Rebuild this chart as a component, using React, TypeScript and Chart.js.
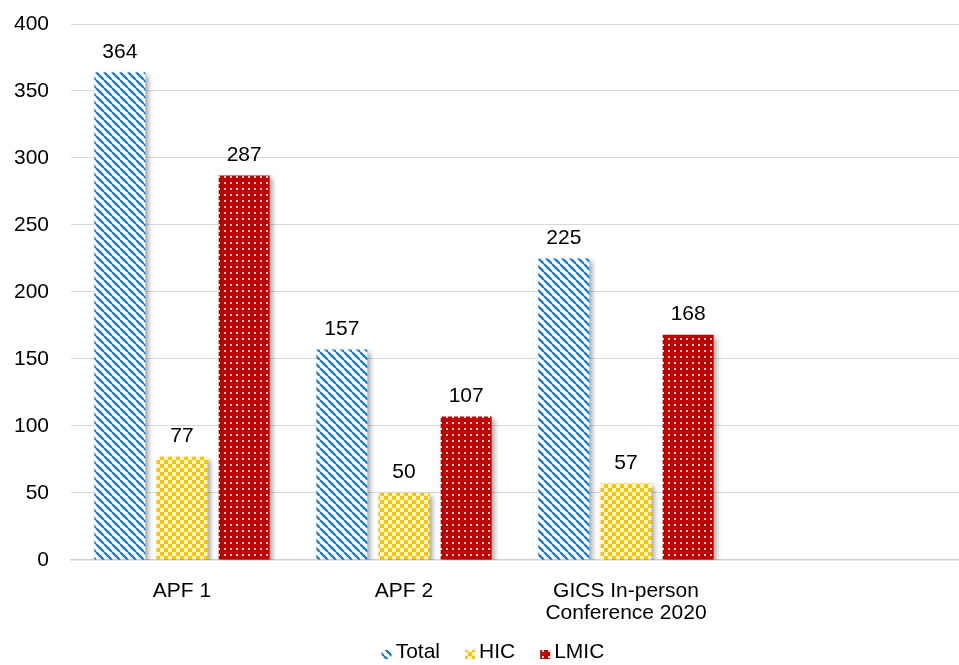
import React, { useEffect, useRef } from "react";
import { Chart, registerables } from "chart.js";

Chart.register(...registerables);

const categories: (string | string[])[] = ["APF 1", "APF 2", ["GICS In-person", "Conference 2020"], ""];
const totalValues = [364, 157, 225, null];
const hicValues = [77, 50, 57, null];
const lmicValues = [287, 107, 168, null];
const seriesNames = ["Total", "HIC", "LMIC"];
const yTicks = [0, 50, 100, 150, 200, 250, 300, 350, 400];

const FONT = "'Liberation Sans', Arial, sans-serif";
const FSIZE = 21;

function makeTile(w: number, h: number, draw: (c: CanvasRenderingContext2D) => void): CanvasPattern {
  const cv = document.createElement("canvas");
  cv.width = w;
  cv.height = h;
  const c = cv.getContext("2d")!;
  draw(c);
  return document.createElement("canvas").getContext("2d")!.createPattern(cv, "repeat")!;
}

function stripePattern(): CanvasPattern {
  return makeTile(8, 8, (c) => {
    c.fillStyle = "#ffffff";
    c.fillRect(0, 0, 8, 8);
    c.strokeStyle = "#1f7dc6";
    c.lineWidth = 2.4;
    for (const off of [-8, 0, 8]) {
      c.beginPath();
      c.moveTo(off, 0);
      c.lineTo(off + 8, 8);
      c.stroke();
    }
  });
}

function checkerPattern(): CanvasPattern {
  return makeTile(8, 8, (c) => {
    c.fillStyle = "#fff6cc";
    c.fillRect(0, 0, 8, 8);
    c.fillStyle = "#f7c600";
    c.fillRect(0, 0, 4, 4);
    c.fillRect(4, 4, 4, 4);
  });
}

function dotPattern(): CanvasPattern {
  return makeTile(6, 6, (c) => {
    c.fillStyle = "#c00000";
    c.fillRect(0, 0, 6, 6);
    c.fillStyle = "#f6d0d0";
    c.fillRect(2, 2, 2, 2);
  });
}

const shadowPlugin = {
  id: "barShadow",
  beforeDatasetsDraw(chart: any) {
    const ctx = chart.ctx;
    ctx.save();
    ctx.shadowColor = "rgba(0,0,0,0.35)";
    ctx.shadowBlur = 5;
    ctx.shadowOffsetX = 3;
    ctx.shadowOffsetY = 3;
  },
  afterDatasetsDraw(chart: any) {
    chart.ctx.restore();
  },
};

const valueLabelPlugin = {
  id: "valueLabels",
  afterDraw(chart: any) {
    const ctx = chart.ctx;
    ctx.save();
    ctx.fillStyle = "#000000";
    ctx.font = `${FSIZE}px ${FONT}`;
    ctx.textAlign = "center";
    ctx.textBaseline = "bottom";
    chart.data.datasets.forEach((ds: any, di: number) => {
      const meta = chart.getDatasetMeta(di);
      meta.data.forEach((bar: any, i: number) => {
        const v = ds.data[i];
        if (v == null) return;
        ctx.fillText(String(v), bar.x, bar.y - 10);
      });
    });
    ctx.restore();
  },
};

const customLegendPlugin = {
  id: "customLegend",
  afterDraw(chart: any) {
    const ctx = chart.ctx;
    ctx.save();
    ctx.font = `${FSIZE}px ${FONT}`;
    ctx.textBaseline = "middle";
    ctx.textAlign = "left";
    const box = 10;
    const gapBoxText = 4;
    const gapItems = 25;
    const items = chart.data.datasets.map((ds: any) => ({
      label: ds.label,
      fill: ds.backgroundColor,
      w: box + gapBoxText + ctx.measureText(ds.label).width,
    }));
    const total = items.reduce((s: number, it: any) => s + it.w, 0) + gapItems * (items.length - 1);
    const cx = 493;
    const cy = 652;
    let x = cx - total / 2;
    items.forEach((it: any) => {
      ctx.fillStyle = it.fill;
      ctx.fillRect(x, cy - 2, box, box - 1);
      ctx.fillStyle = "#000000";
      ctx.fillText(it.label, x + box + gapBoxText, cy);
      x += it.w + gapItems;
    });
    ctx.restore();
  },
};

export default function App() {
  const ref = useRef<HTMLCanvasElement | null>(null);

  useEffect(() => {
    document.body.style.margin = "0";
    const canvas = ref.current!;
    const chart = new Chart(canvas, {
      type: "bar",
      data: {
        labels: categories as any,
        datasets: [
          { label: seriesNames[0], data: totalValues as any, backgroundColor: stripePattern() as any, borderWidth: 0 },
          { label: seriesNames[1], data: hicValues as any, backgroundColor: checkerPattern() as any, borderWidth: 0 },
          { label: seriesNames[2], data: lmicValues as any, backgroundColor: dotPattern() as any, borderWidth: 0 },
        ],
      },
      options: {
        animation: false,
        responsive: false,
        maintainAspectRatio: false,
        layout: { autoPadding: false, padding: { left: 13, top: 24, right: 0, bottom: 21 } },
        datasets: { bar: { barPercentage: 0.82, categoryPercentage: 0.84 } },
        scales: {
          x: {
            grid: { display: false, drawTicks: false },
            border: { color: "#d0d0d0", width: 1.5 },
            ticks: {
              color: "#000000",
              font: { family: FONT, size: FSIZE, lineHeight: 1.05 },
              padding: 20,
              maxRotation: 0,
              autoSkip: false,
            },
          },
          y: {
            min: 0,
            max: 400,
            afterBuildTicks(scale: any) {
              scale.ticks = yTicks.map((v) => ({ value: v }));
            },
            afterFit(scale: any) {
              scale.width = 58;
              scale.paddingTop = 0;
              scale.paddingBottom = 0;
            },
            grid: { color: "#d9d9d9", drawTicks: false },
            border: { display: false },
            ticks: {
              color: "#000000",
              font: { family: FONT, size: FSIZE },
              padding: 22,
            },
          },
        },
        plugins: {
          legend: { display: false },
          tooltip: { enabled: false },
        },
      },
      plugins: [shadowPlugin, valueLabelPlugin, customLegendPlugin],
    } as any);
    return () => chart.destroy();
  }, []);

  return (
    <div style={{ width: 959, height: 665, position: "relative" }}>
      <canvas ref={ref} width={959} height={665} style={{ width: 959, height: 665, display: "block" }} />
    </div>
  );
}
